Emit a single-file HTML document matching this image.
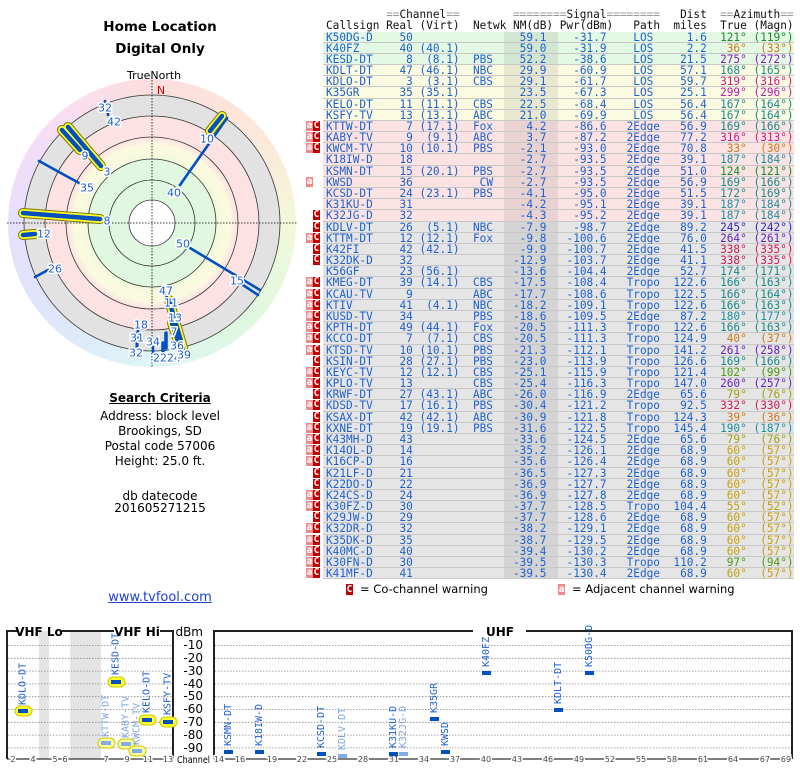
<!DOCTYPE html>
<html><head><meta charset="utf-8">
<style>
*{margin:0;padding:0}
body{width:800px;height:768px;background:#fff;position:relative;overflow:hidden;font-family:"DejaVu Sans","Liberation Sans",sans-serif;color:#000}
.abs{position:absolute}
.r{position:absolute;left:323px;width:471px;height:10.18px;border-bottom:1px solid #c8c8c8;font:11.1px/11px "DejaVu Sans Mono","Liberation Mono",monospace;color:#1f60d0}
.r::before{content:"";position:absolute;left:181px;top:0;width:54px;height:100%;background:rgba(0,0,0,.075)}
.g{background:#e3f9e3}.y{background:#fbfbe2}.k{background:#fbe3e3}.x{background:#e5e5e5}
.r i,.h i{position:absolute;top:0;font-style:normal;white-space:pre}
.s{left:3px}
.e{left:3px;width:86.8px;text-align:right}
.v{left:3px;width:133.6px;text-align:right}
.n{left:3px;width:167px;text-align:right}
.m{left:3px;width:220.4px;text-align:right}
.p{left:3px;width:280.6px;text-align:right}
.t{left:303.6px;width:33.4px;text-align:center}
.d{left:3px;width:380.8px;text-align:right}
.u{left:3px;width:420.8px;text-align:right;color:var(--c)}
.w{left:3px;width:467.6px;text-align:right;color:var(--c)}
.r b{position:absolute;top:0;width:7px;height:10px;font:bold 9.5px/10px "DejaVu Sans Mono",monospace;color:#fff;text-align:center}
.A{left:-17px;background:#f08a8a}
.C{left:-10px;background:#c00000}
.h{position:absolute;left:323px;width:471px;height:11px;font:11.1px/11px "DejaVu Sans Mono","Liberation Mono",monospace;color:#111}
.h span{color:#999}
.ctr{position:absolute;left:0;width:320px;text-align:center}
</style></head><body>

<div class="ctr" style="top:19px;font:bold 13.5px 'DejaVu Sans',sans-serif">Home Location</div>
<div class="ctr" style="top:41px;font:bold 13.5px 'DejaVu Sans',sans-serif">Digital Only</div>
<div class="abs" style="left:127px;top:69px;font:11px 'DejaVu Sans',sans-serif">TrueNorth</div>

<div class="abs" style="left:8px;top:79px;width:288px;height:288px;border-radius:50%;background:conic-gradient(#fcdede,#fde6da 45deg,#f3f8da 90deg,#def8df 135deg,#ddf6f6 180deg,#dfe6fb 225deg,#e6dffb 270deg,#f8def6 315deg,#fcdede)"></div>
<div class="abs" style="left:24px;top:95px;width:256px;height:256px;border-radius:50%;background:radial-gradient(circle,#fff 0 23px,#e0f8e0 23px 62px,#f4f9dc 66px,#fafadf 72px 78px,#fce6e2 84px,#fce2e2 88px 107px,#e2e2e2 107px 128px)"></div>

<svg class="abs" style="left:0;top:0" width="320" height="380" font-family="DejaVu Sans,sans-serif">
<g fill="none" stroke="#333" stroke-width="0.8">
<circle cx="152" cy="223" r="128"/><circle cx="152" cy="223" r="107"/><circle cx="152" cy="223" r="86"/><circle cx="152" cy="223" r="64"/><circle cx="152" cy="223" r="43"/><circle cx="152" cy="223" r="23" fill="#fff"/>
</g>
<g stroke="#000" stroke-width="0.8" stroke-dasharray="1.5,1.5">
<line x1="152" y1="80" x2="152" y2="367"/><line x1="7" y1="223" x2="297" y2="223"/>
</g>
<text x="161" y="94" fill="#e00000" font-size="11" text-anchor="middle">N</text>
<g stroke-linecap="round">
<g stroke="#7a7a00" stroke-width="10">
<line x1="210" y1="131" x2="222" y2="116"/><line x1="62" y1="130" x2="80" y2="150"/><line x1="68" y1="127" x2="101" y2="166"/><line x1="23" y1="213" x2="100" y2="219"/><line x1="23" y1="235" x2="35" y2="234"/><line x1="169" y1="300" x2="183" y2="348"/><line x1="172" y1="323" x2="180" y2="347"/>
</g>
<g stroke="#ffff30" stroke-width="8">
<line x1="210" y1="131" x2="222" y2="116"/><line x1="62" y1="130" x2="80" y2="150"/><line x1="68" y1="127" x2="101" y2="166"/><line x1="23" y1="213" x2="100" y2="219"/><line x1="23" y1="235" x2="35" y2="234"/><line x1="169" y1="300" x2="183" y2="348"/><line x1="172" y1="323" x2="180" y2="347"/>
</g>
<g stroke="#0050c0" stroke-width="4.5">
<line x1="210" y1="131" x2="222" y2="116"/><line x1="62" y1="130" x2="80" y2="150"/><line x1="68" y1="127" x2="101" y2="166"/><line x1="23" y1="213" x2="100" y2="219"/><line x1="23" y1="235" x2="35" y2="234"/><line x1="169" y1="300" x2="183" y2="348"/><line x1="172" y1="323" x2="180" y2="347"/>
</g>
<g stroke="#0050c0" stroke-width="2.6">
<line x1="180" y1="185" x2="227" y2="118"/><line x1="39" y1="161" x2="79" y2="183"/><line x1="35" y1="277" x2="48" y2="270"/><line x1="190" y1="248" x2="260" y2="290"/><line x1="243" y1="285" x2="258" y2="295"/>
<line x1="166" y1="293" x2="167" y2="298"/><line x1="166" y1="333" x2="166" y2="348" stroke-width="3.5"/><line x1="163" y1="343" x2="163" y2="351" stroke-width="3.5"/><line x1="137" y1="333" x2="137" y2="348" stroke-width="3"/><line x1="153" y1="347" x2="153" y2="352"/><line x1="105" y1="101" x2="105" y2="105"/><line x1="108" y1="113" x2="108" y2="115"/><line x1="138" y1="330" x2="138" y2="336"/>
</g>
</g>
<g fill="#1f60d0" font-size="11" text-anchor="middle" stroke="#fff" stroke-width="3" paint-order="stroke" dominant-baseline="central">
<text x="105" y="108">32</text><text x="114" y="122">42</text><text x="207" y="139">10</text><text x="85" y="156">9</text><text x="107" y="172">3</text><text x="87" y="188">35</text><text x="174" y="193">40</text><text x="107" y="221">8</text><text x="44" y="234">12</text><text x="183" y="244">50</text><text x="55" y="269">26</text><text x="237" y="281">15</text><text x="166" y="291">47</text><text x="171" y="303">11</text><text x="175" y="318">13</text><text x="141" y="325">18</text><text x="174" y="332">7</text><text x="137" y="338">31</text><text x="153" y="342">34</text><text x="177" y="346">36</text><text x="136" y="353">32</text><text x="167" y="358">2224</text><text x="184" y="355">39</text>
</g>
</svg>

<div class="ctr" style="top:391px;font:bold 12px 'DejaVu Sans',sans-serif;text-decoration:underline">Search Criteria</div>
<div class="ctr" style="top:409px;font:12px/15px 'DejaVu Sans',sans-serif">Address: block level<br>Brookings, SD<br>Postal code 57006<br>Height: 25.0 ft.</div>
<div class="ctr" style="top:490px;font:12px/12px 'DejaVu Sans',sans-serif">db datecode<br>201605271215</div>
<div class="ctr" style="top:590px;font:13px 'DejaVu Sans',sans-serif;color:#1f40d0;text-decoration:underline">www.tvfool.com</div>

<div class="h" style="top:8.5px"><i style="left:63.1px"><span>==</span>Channel<span>==</span></i><i style="left:190px"><span>========</span>Signal<span>========</span></i><i class="d">Dist</i><i style="left:3px;width:467.6px;text-align:right"><span>==</span>Azimuth<span>==</span></i></div>
<div class="h" style="top:19.5px"><i class="s">Callsign</i><i class="e">Real</i><i class="v">(Virt)</i><i style="left:150px">Netwk</i><i style="left:3px;width:227.1px;text-align:right">NM(dB)</i><i style="left:3px;width:287.2px;text-align:right">Pwr(dBm)</i><i style="left:310.3px">Path</i><i class="d">miles</i><i style="left:3px;width:420.8px;text-align:right">True</i><i style="left:3px;width:467.6px;text-align:right">(Magn)</i></div>

<div class="r g" style="top:31.5px;--c:#1a8a2a"><i class="s">K50DG-D</i><i class="e">50</i><i class="m">59.1</i><i class="p">-31.7</i><i class="t">LOS</i><i class="d">1.6</i><i class="u">121°</i><i class="w">(119°)</i></div>
<div class="r g" style="top:42.68px;--c:#d07818"><i class="s">K40FZ</i><i class="e">40</i><i class="v">(40.1)</i><i class="m">59.0</i><i class="p">-31.9</i><i class="t">LOS</i><i class="d">2.2</i><i class="u">36°</i><i class="w">(33°)</i></div>
<div class="r g" style="top:53.86px;--c:#8a1ac8"><i class="s">KESD-DT</i><i class="e">8</i><i class="v">(8.1)</i><i class="n">PBS</i><i class="m">52.2</i><i class="p">-38.6</i><i class="t">LOS</i><i class="d">21.5</i><i class="u">275°</i><i class="w">(272°)</i></div>
<div class="r y" style="top:65.04px;--c:#1a8a8a"><i class="s">KDLT-DT</i><i class="e">47</i><i class="v">(46.1)</i><i class="n">NBC</i><i class="m">29.9</i><i class="p">-60.9</i><i class="t">LOS</i><i class="d">57.1</i><i class="u">168°</i><i class="w">(165°)</i></div>
<div class="r y" style="top:76.22px;--c:#d01a8a"><i class="s">KDLO-DT</i><i class="e">3</i><i class="v">(3.1)</i><i class="n">CBS</i><i class="m">29.1</i><i class="p">-61.7</i><i class="t">LOS</i><i class="d">59.7</i><i class="u">319°</i><i class="w">(316°)</i></div>
<div class="r y" style="top:87.4px;--c:#c01ab0"><i class="s">K35GR</i><i class="e">35</i><i class="v">(35.1)</i><i class="m">23.5</i><i class="p">-67.3</i><i class="t">LOS</i><i class="d">25.1</i><i class="u">299°</i><i class="w">(296°)</i></div>
<div class="r y" style="top:98.58px;--c:#1a8a8a"><i class="s">KELO-DT</i><i class="e">11</i><i class="v">(11.1)</i><i class="n">CBS</i><i class="m">22.5</i><i class="p">-68.4</i><i class="t">LOS</i><i class="d">56.4</i><i class="u">167°</i><i class="w">(164°)</i></div>
<div class="r y" style="top:109.76px;--c:#1a8a8a"><i class="s">KSFY-TV</i><i class="e">13</i><i class="v">(13.1)</i><i class="n">ABC</i><i class="m">21.0</i><i class="p">-69.9</i><i class="t">LOS</i><i class="d">56.4</i><i class="u">167°</i><i class="w">(164°)</i></div>
<div class="r k" style="top:120.94px;--c:#1a8a8a"><b class="A">a</b><b class="C">C</b><i class="s">KTTW-DT</i><i class="e">7</i><i class="v">(17.1)</i><i class="n">Fox</i><i class="m">4.2</i><i class="p">-86.6</i><i class="t">2Edge</i><i class="d">56.9</i><i class="u">169°</i><i class="w">(166°)</i></div>
<div class="r k" style="top:132.12px;--c:#d01a8a"><b class="A">a</b><b class="C">C</b><i class="s">KABY-TV</i><i class="e">9</i><i class="v">(9.1)</i><i class="n">ABC</i><i class="m">3.7</i><i class="p">-87.2</i><i class="t">2Edge</i><i class="d">77.2</i><i class="u">316°</i><i class="w">(313°)</i></div>
<div class="r k" style="top:143.3px;--c:#d07818"><b class="A">a</b><b class="C">C</b><i class="s">KWCM-TV</i><i class="e">10</i><i class="v">(10.1)</i><i class="n">PBS</i><i class="m">-2.1</i><i class="p">-93.0</i><i class="t">2Edge</i><i class="d">70.8</i><i class="u">33°</i><i class="w">(30°)</i></div>
<div class="r k" style="top:154.48px;--c:#1a90a0"><i class="s">K18IW-D</i><i class="e">18</i><i class="m">-2.7</i><i class="p">-93.5</i><i class="t">2Edge</i><i class="d">39.1</i><i class="u">187°</i><i class="w">(184°)</i></div>
<div class="r k" style="top:165.66px;--c:#1a8a2a"><i class="s">KSMN-DT</i><i class="e">15</i><i class="v">(20.1)</i><i class="n">PBS</i><i class="m">-2.7</i><i class="p">-93.5</i><i class="t">2Edge</i><i class="d">51.0</i><i class="u">124°</i><i class="w">(121°)</i></div>
<div class="r k" style="top:176.84px;--c:#1a8a8a"><b class="A">a</b><i class="s">KWSD</i><i class="e">36</i><i class="n">CW</i><i class="m">-2.7</i><i class="p">-93.5</i><i class="t">2Edge</i><i class="d">56.9</i><i class="u">169°</i><i class="w">(166°)</i></div>
<div class="r k" style="top:188.02px;--c:#1a8a8a"><i class="s">KCSD-DT</i><i class="e">24</i><i class="v">(23.1)</i><i class="n">PBS</i><i class="m">-4.1</i><i class="p">-95.0</i><i class="t">2Edge</i><i class="d">51.5</i><i class="u">172°</i><i class="w">(169°)</i></div>
<div class="r k" style="top:199.2px;--c:#1a90a0"><i class="s">K31KU-D</i><i class="e">31</i><i class="m">-4.2</i><i class="p">-95.1</i><i class="t">2Edge</i><i class="d">39.1</i><i class="u">187°</i><i class="w">(184°)</i></div>
<div class="r k" style="top:210.38px;--c:#1a90a0"><b class="C">C</b><i class="s">K32JG-D</i><i class="e">32</i><i class="m">-4.3</i><i class="p">-95.2</i><i class="t">2Edge</i><i class="d">39.1</i><i class="u">187°</i><i class="w">(184°)</i></div>
<div class="r x" style="top:221.56px;--c:#3a20c0"><b class="C">C</b><i class="s">KDLV-DT</i><i class="e">26</i><i class="v">(5.1)</i><i class="n">NBC</i><i class="m">-7.9</i><i class="p">-98.7</i><i class="t">2Edge</i><i class="d">89.2</i><i class="u">245°</i><i class="w">(242°)</i></div>
<div class="r x" style="top:232.74px;--c:#6a20c0"><b class="A">a</b><b class="C">C</b><i class="s">KTTM-DT</i><i class="e">12</i><i class="v">(12.1)</i><i class="n">Fox</i><i class="m">-9.8</i><i class="p">-100.6</i><i class="t">2Edge</i><i class="d">76.0</i><i class="u">264°</i><i class="w">(261°)</i></div>
<div class="r x" style="top:243.92px;--c:#d01a5a"><b class="C">C</b><i class="s">K42FI</i><i class="e">42</i><i class="v">(42.1)</i><i class="m">-9.9</i><i class="p">-100.7</i><i class="t">2Edge</i><i class="d">41.5</i><i class="u">338°</i><i class="w">(335°)</i></div>
<div class="r x" style="top:255.1px;--c:#d01a5a"><b class="C">C</b><i class="s">K32DK-D</i><i class="e">32</i><i class="m">-12.9</i><i class="p">-103.7</i><i class="t">2Edge</i><i class="d">41.1</i><i class="u">338°</i><i class="w">(335°)</i></div>
<div class="r x" style="top:266.28px;--c:#1a8a8a"><i class="s">K56GF</i><i class="e">23</i><i class="v">(56.1)</i><i class="m">-13.6</i><i class="p">-104.4</i><i class="t">2Edge</i><i class="d">52.7</i><i class="u">174°</i><i class="w">(171°)</i></div>
<div class="r x" style="top:277.46px;--c:#1a8a8a"><b class="A">a</b><b class="C">C</b><i class="s">KMEG-DT</i><i class="e">39</i><i class="v">(14.1)</i><i class="n">CBS</i><i class="m">-17.5</i><i class="p">-108.4</i><i class="t">Tropo</i><i class="d">122.6</i><i class="u">166°</i><i class="w">(163°)</i></div>
<div class="r x" style="top:288.64px;--c:#1a8a8a"><b class="A">a</b><b class="C">C</b><i class="s">KCAU-TV</i><i class="e">9</i><i class="n">ABC</i><i class="m">-17.7</i><i class="p">-108.6</i><i class="t">Tropo</i><i class="d">122.5</i><i class="u">166°</i><i class="w">(164°)</i></div>
<div class="r x" style="top:299.82px;--c:#1a8a8a"><b class="A">a</b><b class="C">C</b><i class="s">KTIV</i><i class="e">41</i><i class="v">(4.1)</i><i class="n">NBC</i><i class="m">-18.2</i><i class="p">-109.1</i><i class="t">Tropo</i><i class="d">122.6</i><i class="u">166°</i><i class="w">(163°)</i></div>
<div class="r x" style="top:311px;--c:#1a90a0"><b class="A">a</b><b class="C">C</b><i class="s">KUSD-TV</i><i class="e">34</i><i class="n">PBS</i><i class="m">-18.6</i><i class="p">-109.5</i><i class="t">2Edge</i><i class="d">87.2</i><i class="u">180°</i><i class="w">(177°)</i></div>
<div class="r x" style="top:322.18px;--c:#1a8a8a"><b class="A">a</b><b class="C">C</b><i class="s">KPTH-DT</i><i class="e">49</i><i class="v">(44.1)</i><i class="n">Fox</i><i class="m">-20.5</i><i class="p">-111.3</i><i class="t">Tropo</i><i class="d">122.6</i><i class="u">166°</i><i class="w">(163°)</i></div>
<div class="r x" style="top:333.36px;--c:#d07818"><b class="A">a</b><b class="C">C</b><i class="s">KCCO-DT</i><i class="e">7</i><i class="v">(7.1)</i><i class="n">CBS</i><i class="m">-20.5</i><i class="p">-111.3</i><i class="t">Tropo</i><i class="d">124.9</i><i class="u">40°</i><i class="w">(37°)</i></div>
<div class="r x" style="top:344.54px;--c:#6a20c0"><b class="A">a</b><b class="C">C</b><i class="s">KTSD-TV</i><i class="e">10</i><i class="v">(10.1)</i><i class="n">PBS</i><i class="m">-21.3</i><i class="p">-112.1</i><i class="t">Tropo</i><i class="d">141.2</i><i class="u">261°</i><i class="w">(258°)</i></div>
<div class="r x" style="top:355.72px;--c:#1a8a8a"><b class="C">C</b><i class="s">KSIN-DT</i><i class="e">28</i><i class="v">(27.1)</i><i class="n">PBS</i><i class="m">-23.0</i><i class="p">-113.9</i><i class="t">Tropo</i><i class="d">126.6</i><i class="u">169°</i><i class="w">(166°)</i></div>
<div class="r x" style="top:366.9px;--c:#4a9a10"><b class="A">a</b><b class="C">C</b><i class="s">KEYC-TV</i><i class="e">12</i><i class="v">(12.1)</i><i class="n">CBS</i><i class="m">-25.1</i><i class="p">-115.9</i><i class="t">Tropo</i><i class="d">121.4</i><i class="u">102°</i><i class="w">(99°)</i></div>
<div class="r x" style="top:378.08px;--c:#6a20c0"><b class="A">a</b><b class="C">C</b><i class="s">KPLO-TV</i><i class="e">13</i><i class="n">CBS</i><i class="m">-25.4</i><i class="p">-116.3</i><i class="t">Tropo</i><i class="d">147.0</i><i class="u">260°</i><i class="w">(257°)</i></div>
<div class="r x" style="top:389.26px;--c:#a0a010"><b class="C">C</b><i class="s">KRWF-DT</i><i class="e">27</i><i class="v">(43.1)</i><i class="n">ABC</i><i class="m">-26.0</i><i class="p">-116.9</i><i class="t">2Edge</i><i class="d">65.6</i><i class="u">79°</i><i class="w">(76°)</i></div>
<div class="r x" style="top:400.44px;--c:#d01a5a"><b class="A">a</b><b class="C">C</b><i class="s">KDSD-TV</i><i class="e">17</i><i class="v">(16.1)</i><i class="n">PBS</i><i class="m">-30.4</i><i class="p">-121.2</i><i class="t">Tropo</i><i class="d">92.5</i><i class="u">332°</i><i class="w">(330°)</i></div>
<div class="r x" style="top:411.62px;--c:#d07818"><b class="C">C</b><i class="s">KSAX-DT</i><i class="e">42</i><i class="v">(42.1)</i><i class="n">ABC</i><i class="m">-30.9</i><i class="p">-121.8</i><i class="t">Tropo</i><i class="d">124.3</i><i class="u">39°</i><i class="w">(36°)</i></div>
<div class="r x" style="top:422.8px;--c:#1a90a0"><b class="A">a</b><b class="C">C</b><i class="s">KXNE-DT</i><i class="e">19</i><i class="v">(19.1)</i><i class="n">PBS</i><i class="m">-31.6</i><i class="p">-122.5</i><i class="t">Tropo</i><i class="d">145.4</i><i class="u">190°</i><i class="w">(187°)</i></div>
<div class="r x" style="top:433.98px;--c:#a0a010"><b class="A">a</b><b class="C">C</b><i class="s">K43MH-D</i><i class="e">43</i><i class="m">-33.6</i><i class="p">-124.5</i><i class="t">2Edge</i><i class="d">65.6</i><i class="u">79°</i><i class="w">(76°)</i></div>
<div class="r x" style="top:445.16px;--c:#c8a010"><b class="A">a</b><b class="C">C</b><i class="s">K14OL-D</i><i class="e">14</i><i class="m">-35.2</i><i class="p">-126.1</i><i class="t">2Edge</i><i class="d">68.9</i><i class="u">60°</i><i class="w">(57°)</i></div>
<div class="r x" style="top:456.34px;--c:#c8a010"><b class="A">a</b><b class="C">C</b><i class="s">K16CP-D</i><i class="e">16</i><i class="m">-35.6</i><i class="p">-126.4</i><i class="t">2Edge</i><i class="d">68.9</i><i class="u">60°</i><i class="w">(57°)</i></div>
<div class="r x" style="top:467.52px;--c:#c8a010"><b class="C">C</b><i class="s">K21LF-D</i><i class="e">21</i><i class="m">-36.5</i><i class="p">-127.3</i><i class="t">2Edge</i><i class="d">68.9</i><i class="u">60°</i><i class="w">(57°)</i></div>
<div class="r x" style="top:478.7px;--c:#c8a010"><b class="C">C</b><i class="s">K22DO-D</i><i class="e">22</i><i class="m">-36.9</i><i class="p">-127.7</i><i class="t">2Edge</i><i class="d">68.9</i><i class="u">60°</i><i class="w">(57°)</i></div>
<div class="r x" style="top:489.88px;--c:#c8a010"><b class="A">a</b><b class="C">C</b><i class="s">K24CS-D</i><i class="e">24</i><i class="m">-36.9</i><i class="p">-127.8</i><i class="t">2Edge</i><i class="d">68.9</i><i class="u">60°</i><i class="w">(57°)</i></div>
<div class="r x" style="top:501.06px;--c:#c0a010"><b class="A">a</b><b class="C">C</b><i class="s">K30FZ-D</i><i class="e">30</i><i class="m">-37.7</i><i class="p">-128.5</i><i class="t">Tropo</i><i class="d">104.4</i><i class="u">55°</i><i class="w">(52°)</i></div>
<div class="r x" style="top:512.24px;--c:#c8a010"><b class="C">C</b><i class="s">K29JW-D</i><i class="e">29</i><i class="m">-37.7</i><i class="p">-128.6</i><i class="t">2Edge</i><i class="d">68.9</i><i class="u">60°</i><i class="w">(57°)</i></div>
<div class="r x" style="top:523.42px;--c:#c8a010"><b class="A">a</b><b class="C">C</b><i class="s">K32DR-D</i><i class="e">32</i><i class="m">-38.2</i><i class="p">-129.1</i><i class="t">2Edge</i><i class="d">68.9</i><i class="u">60°</i><i class="w">(57°)</i></div>
<div class="r x" style="top:534.6px;--c:#c8a010"><b class="A">a</b><b class="C">C</b><i class="s">K35DK-D</i><i class="e">35</i><i class="m">-38.7</i><i class="p">-129.5</i><i class="t">2Edge</i><i class="d">68.9</i><i class="u">60°</i><i class="w">(57°)</i></div>
<div class="r x" style="top:545.78px;--c:#c8a010"><b class="A">a</b><b class="C">C</b><i class="s">K40MC-D</i><i class="e">40</i><i class="m">-39.4</i><i class="p">-130.2</i><i class="t">2Edge</i><i class="d">68.9</i><i class="u">60°</i><i class="w">(57°)</i></div>
<div class="r x" style="top:556.96px;--c:#4a9a10"><b class="A">a</b><b class="C">C</b><i class="s">K30FN-D</i><i class="e">30</i><i class="m">-39.5</i><i class="p">-130.3</i><i class="t">Tropo</i><i class="d">110.2</i><i class="u">97°</i><i class="w">(94°)</i></div>
<div class="r x" style="top:568.14px;--c:#c8a010"><b class="A">a</b><b class="C">C</b><i class="s">K41MF-D</i><i class="e">41</i><i class="m">-39.5</i><i class="p">-130.4</i><i class="t">2Edge</i><i class="d">68.9</i><i class="u">60°</i><i class="w">(57°)</i></div>

<div class="abs" style="left:346px;top:584px;width:7px;height:11px;background:#c00000;color:#fff;font:bold 9.5px/11px 'DejaVu Sans Mono',monospace;text-align:center">C</div>
<div class="abs" style="left:360px;top:582px;font:11.5px 'DejaVu Sans',sans-serif">= Co-channel warning</div>
<div class="abs" style="left:558px;top:584px;width:7px;height:11px;background:#f08a8a;color:#fff;font:bold 9.5px/11px 'DejaVu Sans Mono',monospace;text-align:center">a</div>
<div class="abs" style="left:572px;top:582px;font:11.5px 'DejaVu Sans',sans-serif">= Adjacent channel warning</div>

<svg class="abs" style="left:0;top:0" width="800" height="768" font-family="DejaVu Sans,sans-serif">
<rect x="39" y="631" width="10" height="128" fill="#e4e4e4"/>
<rect x="70" y="631" width="31" height="128" fill="#e4e4e4"/>
<g stroke="#888" stroke-width="0.8" stroke-dasharray="1.5,1.5">
<path d="M8 645.5H172M8 658.3H172M8 671.1H172M8 683.9H172M8 696.7H172M8 709.5H172M8 722.3H172M8 735.1H172M8 747.9H172"/>
<path d="M215 645.5H792M215 658.3H792M215 671.1H792M215 683.9H792M215 696.7H792M215 709.5H792M215 722.3H792M215 735.1H792M215 747.9H792"/>
</g>
<g stroke="#222" stroke-width="2" fill="none">
<path d="M7 759V631H17M62 631H114M160 631H173V759"/>
<path d="M214 759V631H473M526 631H792V759"/>
</g>
<line x1="7" y1="759" x2="173" y2="759" stroke="#333" stroke-width="1.2"/>
<line x1="214" y1="759" x2="792" y2="759" stroke="#333" stroke-width="1.2"/>
<g font-weight="bold" font-size="12" text-anchor="middle">
<text x="39" y="636">VHF Lo</text><text x="137" y="636">VHF Hi</text><text x="500" y="636">UHF</text>
</g>
<g font-size="12" text-anchor="end">
<text x="203" y="636">dBm</text>
<text x="203" y="649">-10</text><text x="203" y="662">-20</text><text x="203" y="675">-30</text><text x="203" y="688">-40</text><text x="203" y="700">-50</text><text x="203" y="713">-60</text><text x="203" y="726">-70</text><text x="203" y="739">-80</text><text x="203" y="752">-90</text>
</g>
<text x="177" y="763" font-size="10" textLength="33" lengthAdjust="spacingAndGlyphs">Channel</text>
<g font-size="8" text-anchor="middle" fill="#444" stroke="#fff" stroke-width="3" paint-order="stroke">
<text x="13" y="762">2</text><text x="33" y="762">4</text><text x="55" y="762">5</text><text x="65" y="762">6</text><text x="106" y="762">7</text><text x="127" y="762">9</text><text x="148" y="762">11</text><text x="168" y="762">13</text>
<text x="219" y="762">14</text><text x="240" y="762">16</text><text x="272" y="762">19</text><text x="302" y="762">22</text><text x="332" y="762">25</text><text x="363" y="762">28</text><text x="394" y="762">31</text><text x="424" y="762">34</text><text x="455" y="762">37</text><text x="486" y="762">40</text><text x="517" y="762">43</text><text x="548" y="762">46</text><text x="579" y="762">49</text><text x="610" y="762">52</text><text x="641" y="762">55</text><text x="672" y="762">58</text><text x="703" y="762">61</text><text x="733" y="762">64</text><text x="765" y="762">67</text><text x="786" y="762">69</text>
</g>
<g stroke="#c8c800" stroke-width="1">
<rect x="15" y="706" width="17" height="10" rx="5" fill="#ffff30"/>
<rect x="108" y="677" width="17" height="10" rx="5" fill="#ffff30"/>
<rect x="139" y="715" width="17" height="10" rx="5" fill="#ffff30"/>
<rect x="160" y="717" width="17" height="10" rx="5" fill="#ffff30"/>
<rect x="98" y="738" width="17" height="10" rx="5" fill="#ffffa0"/>
<rect x="118" y="739" width="17" height="10" rx="5" fill="#ffffa0"/>
<rect x="129" y="746" width="17" height="10" rx="5" fill="#ffffa0"/>
</g>
<g fill="#0050c0">
<rect x="18" y="709" width="10" height="4"/><rect x="111" y="680" width="10" height="4"/><rect x="142" y="718" width="10" height="4"/><rect x="163" y="720" width="10" height="4"/>
<rect x="224" y="750" width="9" height="4"/><rect x="255" y="750" width="9" height="4"/><rect x="317" y="752" width="9" height="4"/><rect x="389" y="752" width="9" height="4"/><rect x="430" y="717" width="9" height="4"/><rect x="441" y="750" width="9" height="4"/><rect x="482" y="671" width="9" height="4"/><rect x="554" y="708" width="9" height="4"/><rect x="585" y="671" width="9" height="4"/>
</g>
<g fill="#80acea">
<rect x="101" y="741" width="10" height="4"/><rect x="121" y="742" width="10" height="4"/><rect x="132" y="749" width="10" height="4"/><rect x="338" y="754" width="9" height="4"/><rect x="399" y="752" width="9" height="4"/>
</g>
<g font-family="DejaVu Sans Mono,monospace" font-size="10" dominant-baseline="central" fill="#1f60d0">
<text transform="translate(23,705) rotate(-90)">KDLO-DT</text>
<text transform="translate(116,675) rotate(-90)">KESD-DT</text>
<text transform="translate(147,713) rotate(-90)">KELO-DT</text>
<text transform="translate(168,715) rotate(-90)">KSFY-TV</text>
<text transform="translate(228.5,746) rotate(-90)">KSMN-DT</text>
<text transform="translate(259.5,746) rotate(-90)">K18IW-D</text>
<text transform="translate(321.5,748) rotate(-90)">KCSD-DT</text>
<text transform="translate(393.5,748) rotate(-90)">K31KU-D</text>
<text transform="translate(434.5,713) rotate(-90)">K35GR</text>
<text transform="translate(445.5,746) rotate(-90)">KWSD</text>
<text transform="translate(486.5,667) rotate(-90)">K40FZ</text>
<text transform="translate(558.5,704) rotate(-90)">KDLT-DT</text>
<text transform="translate(589.5,667) rotate(-90)">K50DG-D</text>
</g>
<g font-family="DejaVu Sans Mono,monospace" font-size="10" dominant-baseline="central" fill="#80a8e0">
<text transform="translate(106,737) rotate(-90)">KTTW-DT</text>
<text transform="translate(126,738) rotate(-90)">KABY-TV</text>
<text transform="translate(137,745) rotate(-90)">KWCM-TV</text>
<text transform="translate(342.5,750) rotate(-90)">KDLV-DT</text>
<text transform="translate(403.5,748) rotate(-90)">K32JG-D</text>
</g>
</svg>
</body></html>
